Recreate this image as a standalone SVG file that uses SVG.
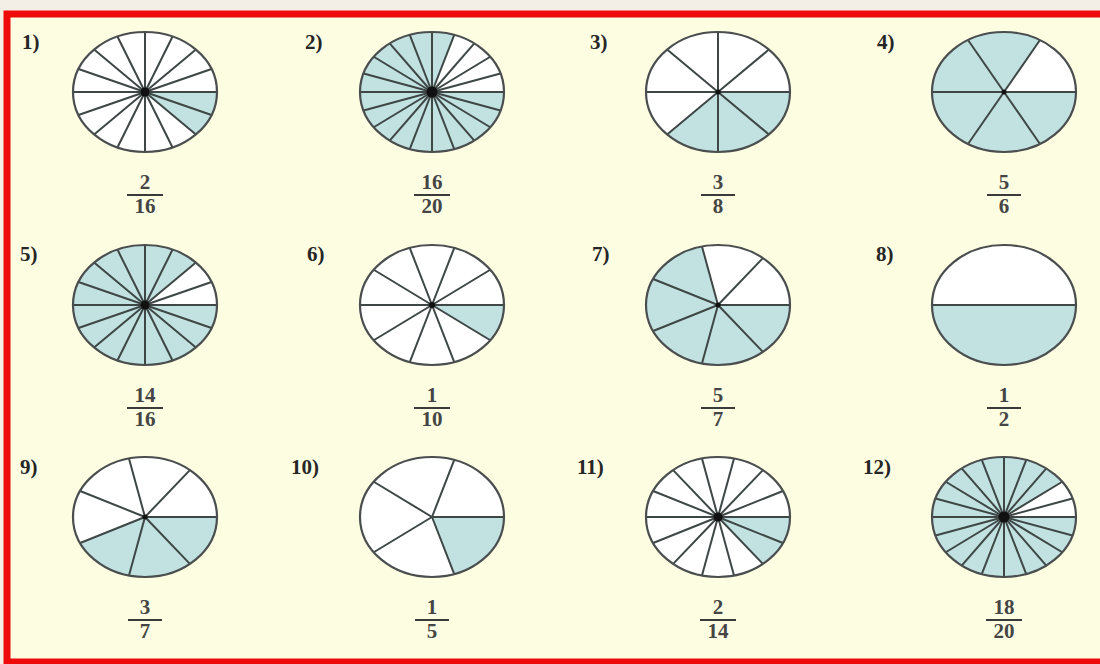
<svg xmlns="http://www.w3.org/2000/svg" xmlns:xlink="http://www.w3.org/1999/xlink" width="1100" height="664" viewBox="0 0 1100 664">
<style>
.bg{fill:#fdfde2}
.pie{fill:#ffffff}
.sh{fill:#c2e2e2}
.sp{stroke:#3e4646;stroke-width:2;vector-effect:non-scaling-stroke}
.rim{fill:none;stroke:#4a4e4e;stroke-width:2.2}
.dot{fill:#111}
.lbl{font-family:"Liberation Serif",serif;font-weight:bold;font-size:21px;fill:#262626}
.num{font-family:"Liberation Serif",serif;font-weight:bold;font-size:21px;fill:#454545;text-anchor:middle}
.bar{stroke:#3a3a3a;stroke-width:1.8}
</style>
<defs>
<line id="sp" class="sp" x1="0" y1="0" x2="72" y2="0"/>
</defs>
<rect x="0" y="0" width="1100" height="664" fill="#f4efe6"/>
<rect class="bg" x="7" y="14" width="1093" height="648"/>
<rect x="7" y="14" width="1100" height="648" fill="none" stroke="#ee0a0a" stroke-width="7"/>

<g id="fig1">
<text class="lbl" x="22" y="49">1)</text>
<g transform="translate(145,92) scale(1,0.8333)">
<circle class="pie" r="72"/>
<path class="sh" d="M0,0 L72,0 A72,72 0 0 1 50.91,50.91 Z"/>
<use xlink:href="#sp"/><use xlink:href="#sp" transform="rotate(22.5)"/><use xlink:href="#sp" transform="rotate(45)"/><use xlink:href="#sp" transform="rotate(67.5)"/><use xlink:href="#sp" transform="rotate(90)"/><use xlink:href="#sp" transform="rotate(112.5)"/><use xlink:href="#sp" transform="rotate(135)"/><use xlink:href="#sp" transform="rotate(157.5)"/><use xlink:href="#sp" transform="rotate(180)"/><use xlink:href="#sp" transform="rotate(202.5)"/><use xlink:href="#sp" transform="rotate(225)"/><use xlink:href="#sp" transform="rotate(247.5)"/><use xlink:href="#sp" transform="rotate(270)"/><use xlink:href="#sp" transform="rotate(292.5)"/><use xlink:href="#sp" transform="rotate(315)"/><use xlink:href="#sp" transform="rotate(337.5)"/>
</g>
<ellipse class="rim" cx="145" cy="92" rx="72" ry="60"/>
<circle class="dot" cx="145" cy="92" r="4.5"/>
<text class="num" x="145" y="189">2</text><line class="bar" x1="127" y1="195" x2="163" y2="195"/><text class="num" x="145" y="213">16</text>
</g>

<g id="fig2">
<text class="lbl" x="305" y="49">2)</text>
<g transform="translate(432,92) scale(1,0.8333)">
<circle class="sh" r="72"/>
<path class="pie" d="M0,0 L72,0 A72,72 0 0 0 22.25,-68.48 Z"/>
<use xlink:href="#sp"/><use xlink:href="#sp" transform="rotate(18)"/><use xlink:href="#sp" transform="rotate(36)"/><use xlink:href="#sp" transform="rotate(54)"/><use xlink:href="#sp" transform="rotate(72)"/><use xlink:href="#sp" transform="rotate(90)"/><use xlink:href="#sp" transform="rotate(108)"/><use xlink:href="#sp" transform="rotate(126)"/><use xlink:href="#sp" transform="rotate(144)"/><use xlink:href="#sp" transform="rotate(162)"/><use xlink:href="#sp" transform="rotate(180)"/><use xlink:href="#sp" transform="rotate(198)"/><use xlink:href="#sp" transform="rotate(216)"/><use xlink:href="#sp" transform="rotate(234)"/><use xlink:href="#sp" transform="rotate(252)"/><use xlink:href="#sp" transform="rotate(270)"/><use xlink:href="#sp" transform="rotate(288)"/><use xlink:href="#sp" transform="rotate(306)"/><use xlink:href="#sp" transform="rotate(324)"/><use xlink:href="#sp" transform="rotate(342)"/>
</g>
<ellipse class="rim" cx="432" cy="92" rx="72" ry="60"/>
<circle class="dot" cx="432" cy="92" r="5.5"/>
<text class="num" x="432" y="189">16</text><line class="bar" x1="414" y1="195" x2="450" y2="195"/><text class="num" x="432" y="213">20</text>
</g>

<g id="fig3">
<text class="lbl" x="590" y="49">3)</text>
<g transform="translate(718,92) scale(1,0.8333)">
<circle class="pie" r="72"/>
<path class="sh" d="M0,0 L72,0 A72,72 0 0 1 -50.91,50.91 Z"/>
<use xlink:href="#sp"/><use xlink:href="#sp" transform="rotate(45)"/><use xlink:href="#sp" transform="rotate(90)"/><use xlink:href="#sp" transform="rotate(135)"/><use xlink:href="#sp" transform="rotate(180)"/><use xlink:href="#sp" transform="rotate(225)"/><use xlink:href="#sp" transform="rotate(270)"/><use xlink:href="#sp" transform="rotate(315)"/>
</g>
<ellipse class="rim" cx="718" cy="92" rx="72" ry="60"/>
<circle class="dot" cx="718" cy="92" r="2.5"/>
<text class="num" x="718" y="189">3</text><line class="bar" x1="701" y1="195" x2="735" y2="195"/><text class="num" x="718" y="213">8</text>
</g>

<g id="fig4">
<text class="lbl" x="877" y="49">4)</text>
<g transform="translate(1004,92) scale(1,0.8333)">
<circle class="sh" r="72"/>
<path class="pie" d="M0,0 L72,0 A72,72 0 0 0 36,-62.35 Z"/>
<use xlink:href="#sp"/><use xlink:href="#sp" transform="rotate(60)"/><use xlink:href="#sp" transform="rotate(120)"/><use xlink:href="#sp" transform="rotate(180)"/><use xlink:href="#sp" transform="rotate(240)"/><use xlink:href="#sp" transform="rotate(300)"/>
</g>
<ellipse class="rim" cx="1004" cy="92" rx="72" ry="60"/>
<circle class="dot" cx="1004" cy="92" r="2.5"/>
<text class="num" x="1004" y="189">5</text><line class="bar" x1="987" y1="195" x2="1021" y2="195"/><text class="num" x="1004" y="213">6</text>
</g>

<g id="fig5">
<text class="lbl" x="20" y="261">5)</text>
<g transform="translate(145,305) scale(1,0.8333)">
<circle class="sh" r="72"/>
<path class="pie" d="M0,0 L72,0 A72,72 0 0 0 50.91,-50.91 Z"/>
<use xlink:href="#sp"/><use xlink:href="#sp" transform="rotate(22.5)"/><use xlink:href="#sp" transform="rotate(45)"/><use xlink:href="#sp" transform="rotate(67.5)"/><use xlink:href="#sp" transform="rotate(90)"/><use xlink:href="#sp" transform="rotate(112.5)"/><use xlink:href="#sp" transform="rotate(135)"/><use xlink:href="#sp" transform="rotate(157.5)"/><use xlink:href="#sp" transform="rotate(180)"/><use xlink:href="#sp" transform="rotate(202.5)"/><use xlink:href="#sp" transform="rotate(225)"/><use xlink:href="#sp" transform="rotate(247.5)"/><use xlink:href="#sp" transform="rotate(270)"/><use xlink:href="#sp" transform="rotate(292.5)"/><use xlink:href="#sp" transform="rotate(315)"/><use xlink:href="#sp" transform="rotate(337.5)"/>
</g>
<ellipse class="rim" cx="145" cy="305" rx="72" ry="60"/>
<circle class="dot" cx="145" cy="305" r="4.5"/>
<text class="num" x="145" y="402">14</text><line class="bar" x1="127" y1="408" x2="163" y2="408"/><text class="num" x="145" y="426">16</text>
</g>

<g id="fig6">
<text class="lbl" x="307" y="261">6)</text>
<g transform="translate(432,305) scale(1,0.8333)">
<circle class="pie" r="72"/>
<path class="sh" d="M0,0 L72,0 A72,72 0 0 1 58.25,42.32 Z"/>
<use xlink:href="#sp"/><use xlink:href="#sp" transform="rotate(36)"/><use xlink:href="#sp" transform="rotate(72)"/><use xlink:href="#sp" transform="rotate(108)"/><use xlink:href="#sp" transform="rotate(144)"/><use xlink:href="#sp" transform="rotate(180)"/><use xlink:href="#sp" transform="rotate(216)"/><use xlink:href="#sp" transform="rotate(252)"/><use xlink:href="#sp" transform="rotate(288)"/><use xlink:href="#sp" transform="rotate(324)"/>
</g>
<ellipse class="rim" cx="432" cy="305" rx="72" ry="60"/>
<circle class="dot" cx="432" cy="305" r="3"/>
<text class="num" x="432" y="402">1</text><line class="bar" x1="414" y1="408" x2="450" y2="408"/><text class="num" x="432" y="426">10</text>
</g>

<g id="fig7">
<text class="lbl" x="592" y="261">7)</text>
<g transform="translate(718,305) scale(1,0.8333)">
<circle class="sh" r="72"/>
<path class="pie" d="M0,0 L72,0 A72,72 0 0 0 -16.02,-70.19 Z"/>
<use xlink:href="#sp"/><use xlink:href="#sp" transform="rotate(51.43)"/><use xlink:href="#sp" transform="rotate(102.86)"/><use xlink:href="#sp" transform="rotate(154.29)"/><use xlink:href="#sp" transform="rotate(205.71)"/><use xlink:href="#sp" transform="rotate(257.14)"/><use xlink:href="#sp" transform="rotate(308.57)"/>
</g>
<ellipse class="rim" cx="718" cy="305" rx="72" ry="60"/>
<circle class="dot" cx="718" cy="305" r="2.5"/>
<text class="num" x="718" y="402">5</text><line class="bar" x1="701" y1="408" x2="735" y2="408"/><text class="num" x="718" y="426">7</text>
</g>

<g id="fig8">
<text class="lbl" x="876" y="261">8)</text>
<g transform="translate(1004,305) scale(1,0.8333)">
<circle class="pie" r="72"/>
<path class="sh" d="M0,0 L72,0 A72,72 0 0 1 -72,0 Z"/>
<use xlink:href="#sp"/><use xlink:href="#sp" transform="rotate(180)"/>
</g>
<ellipse class="rim" cx="1004" cy="305" rx="72" ry="60"/>
<text class="num" x="1004" y="402">1</text><line class="bar" x1="987" y1="408" x2="1021" y2="408"/><text class="num" x="1004" y="426">2</text>
</g>

<g id="fig9">
<text class="lbl" x="20" y="474">9)</text>
<g transform="translate(145,517) scale(1,0.8333)">
<circle class="pie" r="72"/>
<path class="sh" d="M0,0 L72,0 A72,72 0 0 1 -64.87,31.24 Z"/>
<use xlink:href="#sp"/><use xlink:href="#sp" transform="rotate(51.43)"/><use xlink:href="#sp" transform="rotate(102.86)"/><use xlink:href="#sp" transform="rotate(154.29)"/><use xlink:href="#sp" transform="rotate(205.71)"/><use xlink:href="#sp" transform="rotate(257.14)"/><use xlink:href="#sp" transform="rotate(308.57)"/>
</g>
<ellipse class="rim" cx="145" cy="517" rx="72" ry="60"/>
<circle class="dot" cx="145" cy="517" r="2.5"/>
<text class="num" x="145" y="614">3</text><line class="bar" x1="128" y1="620" x2="162" y2="620"/><text class="num" x="145" y="638">7</text>
</g>

<g id="fig10">
<text class="lbl" x="291" y="474">10)</text>
<g transform="translate(432,517) scale(1,0.8333)">
<circle class="pie" r="72"/>
<path class="sh" d="M0,0 L72,0 A72,72 0 0 1 22.25,68.48 Z"/>
<use xlink:href="#sp"/><use xlink:href="#sp" transform="rotate(72)"/><use xlink:href="#sp" transform="rotate(144)"/><use xlink:href="#sp" transform="rotate(216)"/><use xlink:href="#sp" transform="rotate(288)"/>
</g>
<ellipse class="rim" cx="432" cy="517" rx="72" ry="60"/>
<text class="num" x="432" y="614">1</text><line class="bar" x1="415" y1="620" x2="449" y2="620"/><text class="num" x="432" y="638">5</text>
</g>

<g id="fig11">
<text class="lbl" x="577" y="474">11)</text>
<g transform="translate(718,517) scale(1,0.8333)">
<circle class="pie" r="72"/>
<path class="sh" d="M0,0 L72,0 A72,72 0 0 1 44.89,56.29 Z"/>
<use xlink:href="#sp"/><use xlink:href="#sp" transform="rotate(25.71)"/><use xlink:href="#sp" transform="rotate(51.43)"/><use xlink:href="#sp" transform="rotate(77.14)"/><use xlink:href="#sp" transform="rotate(102.86)"/><use xlink:href="#sp" transform="rotate(128.57)"/><use xlink:href="#sp" transform="rotate(154.29)"/><use xlink:href="#sp" transform="rotate(180)"/><use xlink:href="#sp" transform="rotate(205.71)"/><use xlink:href="#sp" transform="rotate(231.43)"/><use xlink:href="#sp" transform="rotate(257.14)"/><use xlink:href="#sp" transform="rotate(282.86)"/><use xlink:href="#sp" transform="rotate(308.57)"/><use xlink:href="#sp" transform="rotate(334.29)"/>
</g>
<ellipse class="rim" cx="718" cy="517" rx="72" ry="60"/>
<circle class="dot" cx="718" cy="517" r="4.5"/>
<text class="num" x="718" y="614">2</text><line class="bar" x1="700" y1="620" x2="736" y2="620"/><text class="num" x="718" y="638">14</text>
</g>

<g id="fig12">
<text class="lbl" x="863" y="474">12)</text>
<g transform="translate(1004,517) scale(1,0.8333)">
<circle class="sh" r="72"/>
<path class="pie" d="M0,0 L72,0 A72,72 0 0 0 58.25,-42.32 Z"/>
<use xlink:href="#sp"/><use xlink:href="#sp" transform="rotate(18)"/><use xlink:href="#sp" transform="rotate(36)"/><use xlink:href="#sp" transform="rotate(54)"/><use xlink:href="#sp" transform="rotate(72)"/><use xlink:href="#sp" transform="rotate(90)"/><use xlink:href="#sp" transform="rotate(108)"/><use xlink:href="#sp" transform="rotate(126)"/><use xlink:href="#sp" transform="rotate(144)"/><use xlink:href="#sp" transform="rotate(162)"/><use xlink:href="#sp" transform="rotate(180)"/><use xlink:href="#sp" transform="rotate(198)"/><use xlink:href="#sp" transform="rotate(216)"/><use xlink:href="#sp" transform="rotate(234)"/><use xlink:href="#sp" transform="rotate(252)"/><use xlink:href="#sp" transform="rotate(270)"/><use xlink:href="#sp" transform="rotate(288)"/><use xlink:href="#sp" transform="rotate(306)"/><use xlink:href="#sp" transform="rotate(324)"/><use xlink:href="#sp" transform="rotate(342)"/>
</g>
<ellipse class="rim" cx="1004" cy="517" rx="72" ry="60"/>
<circle class="dot" cx="1004" cy="517" r="5.5"/>
<text class="num" x="1004" y="614">18</text><line class="bar" x1="986" y1="620" x2="1022" y2="620"/><text class="num" x="1004" y="638">20</text>
</g>
</svg>
